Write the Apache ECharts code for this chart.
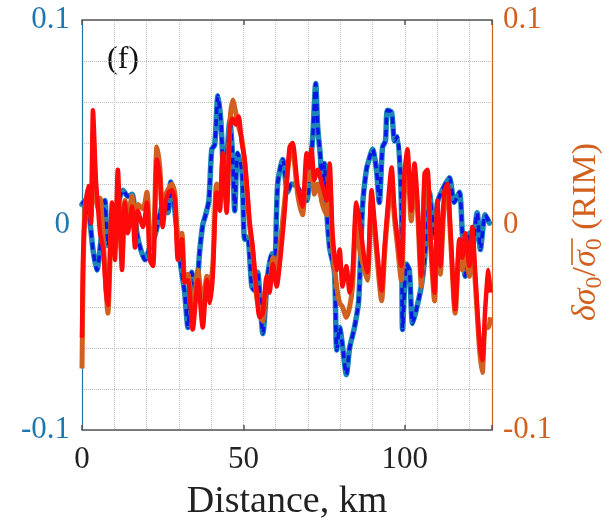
<!DOCTYPE html>
<html><head><meta charset="utf-8">
<script src="https://cdn.jsdelivr.net/npm/echarts@6/dist/echarts.min.js"></script>
<style>html,body{margin:0;padding:0;background:#fff}#c{width:606px;height:526px}</style>
</head><body><div id="c"></div>
<script>
const xTicks = [0, 50, 100];
const yTicks = [-0.1, 0, 0.1];
const yTickLabels = ['-0.1', '0', '0.1'];

const distA = [0,0.9,2.2,3.4,4.6,5.9,7.1,8.0,9.6,11.1,12.7,14.2,15.5,17.0,18.2,19.5,21.0,22.6,24.1,25.4,26.6,27.5,28.4,29.7,30.6,31.8,32.8,34.0,35.3,36.5,37.4,38.3,39.3,40.2,41.1,42.1,43.0,44.2,45.8,46.7,47.3,48.2,49.5,50.4,51.3,52.6,53.5,54.4,55.3,56.0,57.5,58.8,59.7,60.6,62.2,63.7,64.9,66.5,68.0,69.6,70.8,71.4,72.4,73.0,73.9,74.5,75.1,75.8,76.7,78.2,78.9,79.8,80.7,81.9,82.9,84.4,85.7,86.9,88.1,89.1,90.0,91.2,92.1,93.1,94.0,94.6,95.9,96.8,97.7,98.9,99.3,100.5,101.4,102.4,103.6,105.1,106.1,107.6,109.2,110.1,111.6,113.8,115.3,116.9,117.8,118.7,120.0,120.9,122.4,123.4,124.9,126.2];
const blueVals = [0.010,0.012,0.005,-0.012,-0.022,-0.007,0.012,-0.010,-0.001,0.010,0.017,0.014,0.015,-0.004,-0.012,-0.017,-0.011,-0.005,0.005,0.012,0.006,0.021,0.012,-0.007,-0.020,-0.033,-0.050,-0.023,-0.033,-0.012,0.000,0.005,0.012,0.037,0.039,0.063,0.051,0.018,0.051,0.032,0.007,0.035,0.027,-0.007,-0.006,-0.030,-0.032,-0.023,-0.040,-0.053,-0.025,-0.014,-0.018,0.020,0.032,0.016,0.020,0.019,0.015,0.012,0.032,0.041,0.069,0.048,0.032,0.011,0.030,0.007,-0.011,-0.023,-0.061,-0.050,-0.059,-0.073,-0.060,-0.050,-0.037,0.009,0.027,0.033,0.037,0.027,0.011,0.038,0.041,0.056,0.055,0.041,0.043,0.012,-0.051,-0.019,-0.022,-0.048,-0.041,-0.030,-0.017,0.016,-0.006,0.011,0.017,0.023,0.011,0.016,-0.004,-0.025,-0.004,-0.011,0.006,-0.012,0.005,0.001];

const distB = [0,0.3,0.9,1.9,2.8,3.4,4.3,4.9,5.6,6.5,7.4,8.0,9.3,10.2,11.1,12.4,13.3,14.2,15.5,16.4,17.3,18.9,20.1,21.0,22.0,23.2,24.1,25.0,26.0,26.9,27.8,28.8,29.7,30.9,31.8,32.8,34.3,35.9,37.4,38.7,39.6,40.5,41.7,42.7,43.6,44.8,45.8,46.7,47.6,48.5,49.5,50.4,51.3,51.9,52.9,54.1,55.0,56.0,57.2,58.1,59.1,60.3,61.2,62.8,64.3,65.2,66.8,68.3,69.6,70.5,71.1,72.0,73.0,74.5,75.8,76.7,77.6,78.9,79.8,80.7,81.9,82.9,83.8,85.0,86.0,87.5,88.4,89.7,90.6,91.5,92.8,93.7,94.6,95.9,96.8,97.7,98.9,99.9,100.8,102.0,103.0,103.9,105.1,106.1,107.0,107.9,109.2,110.1,111.0,112.2,113.2,114.1,115.6,116.9,117.8,118.7,120.0,120.9,121.8,123.1,124.0,124.9,125.9,126.5];
const redVals = [-0.055,-0.017,0.004,0.019,0.001,0.056,0.022,0.010,-0.004,-0.011,-0.032,-0.039,0.011,-0.017,0.027,-0.022,0.011,-0.004,0.009,-0.011,0.007,-0.001,0.011,-0.017,-0.020,0.032,0.024,-0.001,0.012,0.016,0.017,0.012,-0.017,-0.007,-0.028,-0.027,-0.051,-0.027,-0.050,-0.027,-0.038,-0.025,0.016,0.007,0.035,0.006,0.048,0.052,0.049,0.053,0.040,0.032,0.015,0.002,-0.011,-0.033,-0.045,-0.043,-0.025,-0.033,-0.019,-0.030,-0.020,0.007,0.038,0.040,0.019,0.009,0.035,0.028,0.037,0.022,0.027,0.019,0.012,0.030,-0.004,-0.022,-0.012,-0.030,-0.020,-0.033,-0.023,0.011,0.002,-0.017,-0.023,0.017,0.002,-0.014,-0.032,-0.011,0.007,0.028,0.007,-0.006,-0.020,0.025,0.037,0.007,0.030,0.012,-0.025,0.025,0.027,-0.004,-0.033,0.012,-0.020,0.016,0.020,-0.001,-0.041,-0.007,-0.016,-0.004,-0.020,-0.001,-0.023,-0.056,-0.066,-0.041,-0.022,-0.033];
const orangeVals = [-0.070,-0.030,0.008,0.017,0.004,0.045,0.015,0.008,0.013,-0.005,-0.030,-0.043,0.005,-0.012,0.015,-0.015,0.012,0.005,0.014,0.000,0.010,0.008,0.016,-0.005,-0.010,0.038,0.028,0.005,0.015,0.018,0.020,0.015,-0.010,-0.004,-0.025,-0.024,-0.045,-0.022,-0.040,-0.025,-0.030,-0.020,0.020,0.012,0.032,0.010,0.050,0.061,0.055,0.048,0.042,0.030,0.012,0.000,-0.013,-0.035,-0.042,-0.047,-0.028,-0.030,-0.016,-0.022,-0.012,0.012,0.034,0.036,0.015,0.005,0.025,0.022,0.030,0.015,0.020,0.010,0.005,0.022,-0.010,-0.030,-0.038,-0.040,-0.045,-0.040,-0.030,0.005,-0.012,-0.022,-0.027,0.012,-0.002,-0.018,-0.037,-0.015,0.003,0.020,0.003,-0.010,-0.027,0.018,0.030,0.002,0.022,0.008,-0.030,0.018,0.022,-0.008,-0.037,0.008,-0.024,0.010,0.015,-0.005,-0.043,-0.012,-0.022,-0.010,-0.025,-0.008,-0.028,-0.060,-0.072,-0.050,-0.050,-0.045];

const BLUE_TXT = '#1f77b0';
const ORANGE = '#d2601f';
const FONT = '"Liberation Serif", "DejaVu Serif", serif';

const chart = echarts.init(document.getElementById('c'), null, {renderer: 'canvas'});

function yFmt(v) {
  const k = yTicks.findIndex(t => Math.abs(t - v) < 1e-9);
  return k >= 0 ? yTickLabels[k] : '';
}
function xFmt(v) {
  return xTicks.some(t => Math.abs(t - v) < 1e-9) ? String(v) : '';
}

const meas = document.createElement('canvas').getContext('2d');
function mw(t, f) { meas.font = f; return meas.measureText(t).width; }
const FS = 34, SS = 24;
const fIt = 'italic ' + FS + 'px "Liberation Serif"';
const fUp = FS + 'px "Liberation Serif"';
const fSub = SS + 'px "Liberation Serif"';
const pieces = [
  {t: 'δσ', f: fIt, dy: 0},
  {t: '0', f: fSub, dy: 9},
  {t: '/', f: fUp, dy: 0},
  {t: 'σ', f: fIt, dy: 0, ov: 'start'},
  {t: '0', f: fSub, dy: 9, ov: 'end'},
  {t: ' (RIM)', f: fUp, dy: 0}
];
let total = 0;
pieces.forEach(p => { p.w = mw(p.t, p.f); total += p.w; });
let cx = -total / 2;
const kids = [];
let ovStart = 0, ovEnd = 0;
pieces.forEach(p => {
  kids.push({type: 'text', x: cx, y: p.dy, style: {text: p.t, font: p.f, fill: ORANGE, textAlign: 'left', textVerticalAlign: 'middle', align: 'left', verticalAlign: 'middle'}});
  if (p.ov === 'start') ovStart = cx;
  if (p.ov === 'end') ovEnd = cx + p.w;
  cx += p.w;
});
kids.push({type: 'line', shape: {x1: ovStart + 2, y1: -14, x2: ovEnd, y2: -14}, style: {stroke: ORANGE, lineWidth: 1.6}});

const gridLine = {show: true, lineStyle: {color: '#bcbcbc', type: 'dotted', width: 1}};

const option = {
  animation: false,
  backgroundColor: '#ffffff',
  grid: {left: 82, top: 20, width: 410, height: 410, containLabel: false},
  xAxis: [
    {type: 'value', position: 'bottom', min: 0, max: 127, interval: 10,
     axisLine: {show: true, onZero: false, lineStyle: {color: '#555', width: 1.5}},
     axisTick: {show: false}, splitLine: gridLine,
     axisLabel: {formatter: xFmt, color: '#222', fontFamily: FONT, fontSize: 31, margin: 14, showMaxLabel: false}},
    {type: 'value', position: 'bottom', min: 0, max: 127, interval: 50,
     axisLine: {show: false, onZero: false}, splitLine: {show: false}, axisLabel: {show: false},
     axisTick: {show: true, inside: true, length: 5, lineStyle: {color: '#555', width: 1.5}}},
    {type: 'value', position: 'top', min: 0, max: 127, interval: 50,
     axisLine: {show: true, onZero: false, lineStyle: {color: '#555', width: 1.5}}, splitLine: {show: false}, axisLabel: {show: false},
     axisTick: {show: true, inside: true, length: 5, lineStyle: {color: '#555', width: 1.5}}}
  ],
  yAxis: [
    {type: 'value', position: 'left', min: -0.1, max: 0.1, interval: 0.02,
     axisLine: {show: true, onZero: false, lineStyle: {color: BLUE_TXT, width: 1.2}},
     axisTick: {show: false}, splitLine: gridLine,
     axisLabel: {formatter: yFmt, color: BLUE_TXT, fontFamily: FONT, fontSize: 31, margin: 12, showMinLabel: true, showMaxLabel: true}},
    {type: 'value', position: 'right', min: -0.1, max: 0.1, interval: 0.02,
     axisLine: {show: true, onZero: false, lineStyle: {color: ORANGE, width: 1.2}},
     axisTick: {show: false}, splitLine: {show: false},
     axisLabel: {formatter: yFmt, color: ORANGE, fontFamily: FONT, fontSize: 31, margin: 11, showMinLabel: true, showMaxLabel: true}}
  ],
  graphic: [
    {type: 'text', x: 123, y: 60, style: {text: '(f)', font: '32px "Liberation Serif"', fill: '#111', textAlign: 'center', textVerticalAlign: 'middle', align: 'center', verticalAlign: 'middle'}},
    {type: 'text', x: 287, y: 502, style: {text: 'Distance, km', font: '38px "Liberation Serif"', fill: '#222', textAlign: 'center', textVerticalAlign: 'middle', align: 'center', verticalAlign: 'middle'}},
    {type: 'group', x: 586, y: 232, rotation: Math.PI / 2, children: kids}
  ],
  series: [
    {name: 'teal', type: 'line', xAxisIndex: 0, yAxisIndex: 0, showSymbol: false, symbol: 'none', smooth: 0.25,
     data: distA.map((d, i) => [d, blueVals[i]]), lineStyle: {color: '#1c86b8', width: 5.5, join: 'round', cap: 'round'}, z: 2},
    {name: 'blue', type: 'line', xAxisIndex: 0, yAxisIndex: 0, showSymbol: false, symbol: 'none', smooth: 0.25,
     data: distA.map((d, i) => [d, blueVals[i]]), lineStyle: {color: '#0a14e6', width: 3.5, type: [7, 5]}, z: 3},
    {name: 'orange', type: 'line', xAxisIndex: 0, yAxisIndex: 1, showSymbol: false, symbol: 'none', smooth: 0.25,
     data: distB.map((d, i) => [d, orangeVals[i]]), lineStyle: {color: ORANGE, width: 5, join: 'round'}, z: 4},
    {name: 'red', type: 'line', xAxisIndex: 0, yAxisIndex: 1, showSymbol: false, symbol: 'none', smooth: 0.25,
     data: distB.map((d, i) => [d, redVals[i]]), lineStyle: {color: '#ff0a0a', width: 4.5, join: 'round'}, z: 5}
  ]
};
chart.setOption(option);
</script>
</body></html>
